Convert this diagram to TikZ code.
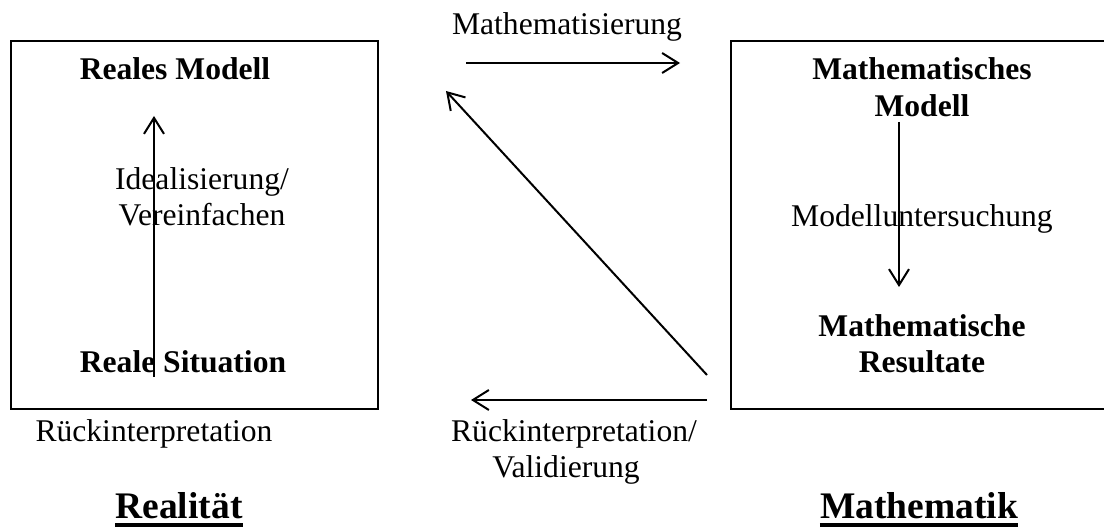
\documentclass[tikz,border=0pt]{standalone}
\usepackage{fontspec}
\setmainfont{Liberation Serif}
\usetikzlibrary{arrows.meta}
\tikzset{
  lbl/.style={font=\fontsize{31.6}{37}\selectfont, inner sep=0pt, anchor=base, align=center},
  blbl/.style={lbl, font=\fontsize{31.6}{37}\selectfont\bfseries},
  ttl/.style={font=\fontsize{37.5}{42}\selectfont\bfseries, inner sep=0pt, anchor=base},
  uline/.style={line width=3.2pt},
  frame/.style={draw, line width=2.6pt},
  conn/.style={line width=2pt, -{Straight Barb[length=16pt,width=20pt,line width=2pt]}}
}
\begin{document}
\begin{tikzpicture}[x=1pt,y=-1pt]
\useasboundingbox (0,0) rectangle (1104,529);
\fill[white] (0,0) rectangle (1104,529);
% boxes
\draw[frame] (11,41) rectangle (378,409);
\draw[frame] (731,41) rectangle (1110,409);
% left box texts
\node[blbl] (rm) at (175,80) {Reales Modell};
\node[blbl] (rs) at (183,373) {Reale Situation};
\node[lbl] (iv) at (202,190) {Idealisierung/};
\node[lbl] (iv2) at (202,226) {Vereinfachen};
% right box texts
\node[blbl] (mm) at (922,80) {Mathematisches};
\node[blbl] (mm2) at (922,117) {Modell};
\node[lbl] (mu) at (922,227) {Modelluntersuchung};
\node[blbl] (mr) at (922,337) {Mathematische};
\node[blbl] (mr2) at (922,373) {Resultate};
% middle texts
\node[lbl] (mat) at (567,35) {Mathematisierung};
\node[lbl] (rv) at (574,442) {Rückinterpretation/};
\node[lbl] (rv2) at (566,478) {Validierung};
\node[lbl] (rl) at (154,442) {Rückinterpretation};
% titles
\node[ttl] (real) at (179,518) {Realität};
\node[ttl] (math) at (919,518) {Mathematik};
\draw[uline] ([yshift=-7pt]real.base west) -- ([yshift=-7pt]real.base east);
\draw[uline] ([yshift=-7pt]math.base west) -- ([yshift=-7pt]math.base east);
% connector endpoints
\coordinate (a1) at (154,377);
\coordinate (a2) at (154,116);
\coordinate (b1) at (899,122);
\coordinate (b2) at (899,287);
\coordinate (c1) at (466,63);
\coordinate (c2) at (680,63);
\coordinate (d1) at (707,375);
\coordinate (d2) at (446,91);
\coordinate (e1) at (707,400);
\coordinate (e2) at (471,400);
\draw[conn] (a1) -- (a2);
\draw[conn] (b1) -- (b2);
\draw[conn] (c1) -- (c2);
\draw[conn] (d1) -- (d2);
\draw[conn] (e1) -- (e2);
\end{tikzpicture}
\end{document}
